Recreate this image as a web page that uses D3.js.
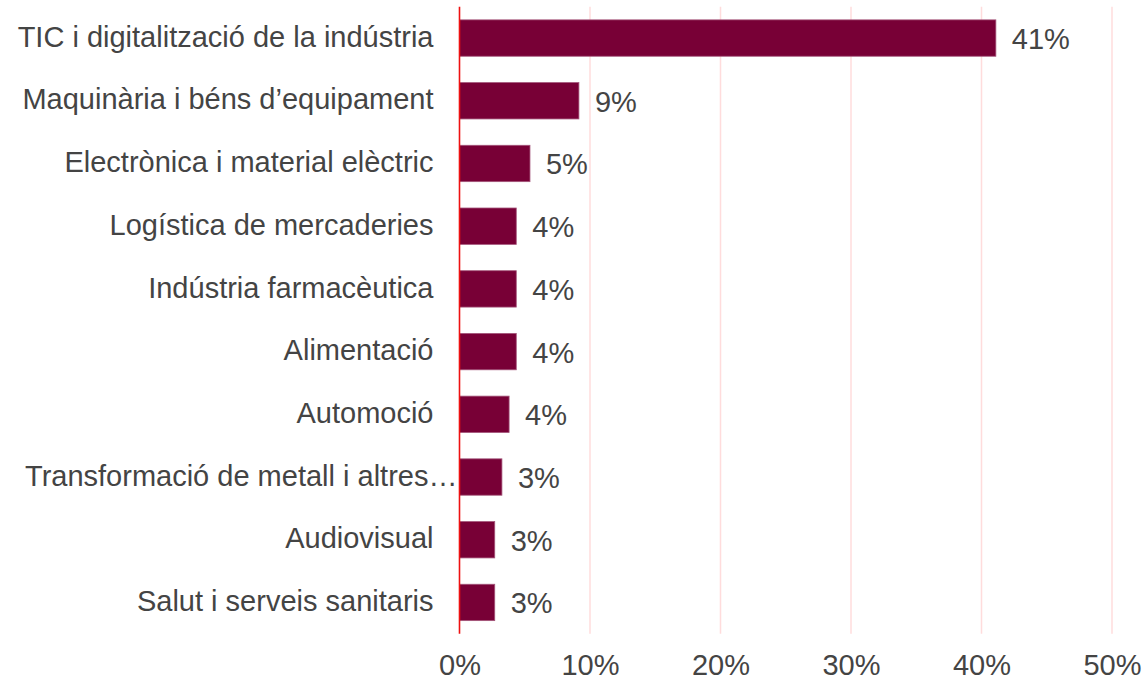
<!DOCTYPE html>
<html>
<head>
<meta charset="utf-8">
<script src="https://cdn.jsdelivr.net/npm/d3@7"></script>
<style>
  html, body { margin: 0; padding: 0; background: #fff; }
  svg text { font-family: "Liberation Sans", Arial, Helvetica, sans-serif; }
</style>
</head>
<body>
<svg id="chart" width="1142" height="681"></svg>
<script>
const categories = [
  "TIC i digitalització de la indústria",
  "Maquinària i béns d’equipament",
  "Electrònica i material elèctric",
  "Logística de mercaderies",
  "Indústria farmacèutica",
  "Alimentació",
  "Automoció",
  "Transformació de metall i altres…",
  "Audiovisual",
  "Salut i serveis sanitaris"
];
const values = [41.1, 9.15, 5.4, 4.35, 4.35, 4.35, 3.8, 3.25, 2.7, 2.7];
const tickValues = [0, 10, 20, 30, 40, 50];

(function () {
const svg = d3.select("#chart");
const pLeft = 459.5, pRight = 1112, pTop = 6.7, pBottom = 633.8;
const fontSize = 29;
const textColor = "#444";

const x = d3.scaleLinear().domain([0, 50]).range([pLeft, pRight]);
const y = d3.scaleBand().domain(categories).range([pTop, pBottom]).paddingInner(0.42).paddingOuter(0.21);

// gridlines
svg.append("g").selectAll("line").data(tickValues.filter(d => d > 0)).join("line")
  .attr("x1", d => x(d)).attr("x2", d => x(d))
  .attr("y1", pTop).attr("y2", pBottom)
  .attr("stroke", "#ffdcdc").attr("stroke-width", 1.5);

// bars
svg.append("g").selectAll("rect").data(categories).join("rect")
  .attr("x", x(0))
  .attr("y", d => y(d))
  .attr("width", (d, i) => x(values[i]) - x(0))
  .attr("height", y.bandwidth())
  .attr("fill", "#780036")
  .attr("stroke", "#a4557a")
  .attr("stroke-width", 0.8);

// zero line
svg.append("line")
  .attr("x1", x(0)).attr("x2", x(0))
  .attr("y1", pTop).attr("y2", pBottom)
  .attr("stroke", "#ee1111").attr("stroke-width", 1.6);

// category labels (truncated ones are left-aligned in the available space)
svg.append("g").selectAll("text").data(categories).join("text")
  .attr("x", d => d.endsWith("…") ? 25 : x(0) - 26)
  .attr("y", d => y(d) + y.bandwidth() / 2)
  .attr("dy", "0.3em")
  .attr("text-anchor", d => d.endsWith("…") ? "start" : "end")
  .attr("font-size", fontSize)
  .attr("fill", textColor)
  .text(d => d);

// value labels
svg.append("g").selectAll("text").data(categories).join("text")
  .attr("x", (d, i) => x(values[i]) + 16)
  .attr("y", d => y(d) + y.bandwidth() / 2)
  .attr("dy", "0.38em")
  .attr("font-size", fontSize)
  .attr("fill", textColor)
  .text((d, i) => Math.round(values[i]) + "%");

// x axis tick labels
const axis = d3.axisBottom(x).tickValues(tickValues).tickFormat(d => d + "%").tickSize(0).tickPadding(0);
const ax = svg.append("g").attr("transform", "translate(0,654.5)").call(axis);
ax.select(".domain").remove();
ax.selectAll("text")
  .attr("font-size", fontSize)
  .attr("fill", textColor)
  .attr("dy", "0.71em")
  .style("font-family", '"Liberation Sans", Arial, Helvetica, sans-serif');
})();
</script>
</body>
</html>
